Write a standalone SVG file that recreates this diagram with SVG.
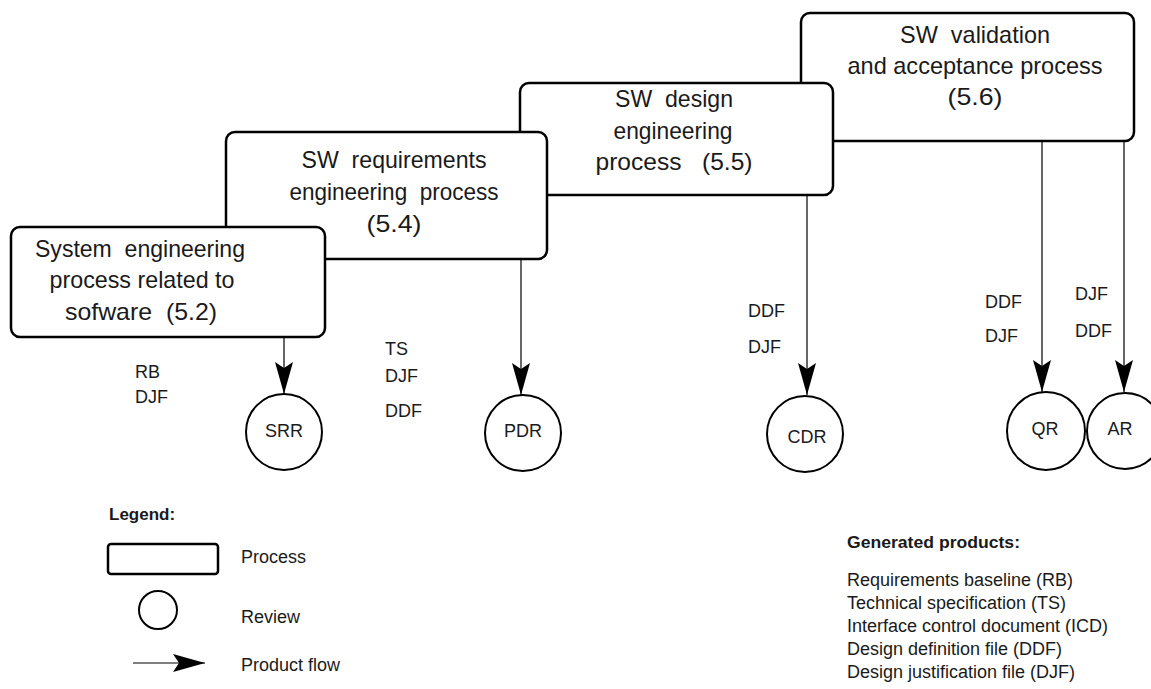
<svg xmlns="http://www.w3.org/2000/svg" width="1151" height="689" viewBox="0 0 1151 689">
<style>
.box{fill:#fff;stroke:#000;stroke-width:2.5}
.rev{fill:#fff;stroke:#000;stroke-width:2}
.flow{fill:none;stroke:#000;stroke-width:1.2;marker-end:url(#ah)}
.t{font-family:"Liberation Sans",Arial,sans-serif;fill:#1a1a1a;white-space:pre}
.bt{font-size:24px;text-anchor:middle}
.lb{font-size:18px}
.cl{font-size:18px;text-anchor:middle}
.lg{font-size:18px}
.hd{font-size:17px;font-weight:bold}
</style>
<defs>
<marker id="ah" viewBox="0 -9 32 18" refX="32" refY="0" markerWidth="32" markerHeight="18" markerUnits="userSpaceOnUse" orient="auto">
<path d="M0,-9 L32,0 L0,9 L6,0 Z" fill="#000"/>
</marker>
</defs>
<rect width="1151" height="689" fill="#fff"/>

<g id="connectors">
<line class="flow" x1="284" y1="337" x2="284" y2="394"/>
<line class="flow" x1="521" y1="259" x2="521" y2="395"/>
<line class="flow" x1="807" y1="195" x2="807" y2="395"/>
<line class="flow" x1="1042" y1="141" x2="1042" y2="392"/>
<line class="flow" x1="1124" y1="141" x2="1124" y2="392"/>
</g>

<g id="p56">
<rect class="box" x="801" y="13" width="333" height="128" rx="9"/>
<text class="t bt" x="975" y="43" textLength="150" lengthAdjust="spacingAndGlyphs">SW  validation</text>
<text class="t bt" x="975" y="74" textLength="255" lengthAdjust="spacingAndGlyphs">and acceptance process</text>
<text class="t bt" x="975" y="105" textLength="55" lengthAdjust="spacingAndGlyphs">(5.6)</text>
</g>
<g id="p55">
<rect class="box" x="520" y="83" width="313" height="112" rx="9"/>
<text class="t bt" x="674" y="107" textLength="118" lengthAdjust="spacingAndGlyphs">SW  design</text>
<text class="t bt" x="673" y="139" textLength="119" lengthAdjust="spacingAndGlyphs">engineering</text>
<text class="t bt" x="674" y="170" textLength="157" lengthAdjust="spacingAndGlyphs">process   (5.5)</text>
</g>
<g id="p54">
<rect class="box" x="226" y="132" width="321" height="127" rx="9"/>
<text class="t bt" x="394" y="168" textLength="185" lengthAdjust="spacingAndGlyphs">SW  requirements</text>
<text class="t bt" x="394" y="200" textLength="209" lengthAdjust="spacingAndGlyphs">engineering  process</text>
<text class="t bt" x="394" y="232" textLength="55" lengthAdjust="spacingAndGlyphs">(5.4)</text>
</g>
<g id="p52">
<rect class="box" x="11" y="227" width="314" height="110" rx="9"/>
<text class="t bt" x="140" y="257" textLength="210" lengthAdjust="spacingAndGlyphs">System  engineering</text>
<text class="t bt" x="142" y="288" textLength="185" lengthAdjust="spacingAndGlyphs">process related to</text>
<text class="t bt" x="141" y="320" textLength="152" lengthAdjust="spacingAndGlyphs">sofware  (5.2)</text>
</g>

<g id="srr"><circle class="rev" cx="284" cy="432" r="38"/><text class="t cl" x="284" y="437">SRR</text></g>
<g id="pdr"><circle class="rev" cx="523" cy="433" r="38"/><text class="t cl" x="523" y="437">PDR</text></g>
<g id="cdr"><circle class="rev" cx="805" cy="434" r="38"/><text class="t cl" x="807" y="443">CDR</text></g>
<g id="qr"><circle class="rev" cx="1046" cy="431" r="39"/><text class="t cl" x="1045" y="435">QR</text></g>
<g id="ar"><circle class="rev" cx="1125" cy="431" r="38"/><text class="t cl" x="1120" y="435">AR</text></g>

<g id="labels">
<text class="t lb" x="135" y="378">RB</text>
<text class="t lb" x="135" y="403">DJF</text>
<text class="t lb" x="385" y="355">TS</text>
<text class="t lb" x="385" y="382">DJF</text>
<text class="t lb" x="385" y="417">DDF</text>
<text class="t lb" x="748" y="317">DDF</text>
<text class="t lb" x="748" y="353">DJF</text>
<text class="t lb" x="985" y="308">DDF</text>
<text class="t lb" x="985" y="342">DJF</text>
<text class="t lb" x="1075" y="300">DJF</text>
<text class="t lb" x="1075" y="337">DDF</text>
</g>

<g id="legend">
<text class="t hd" x="109" y="520">Legend:</text>
<rect x="108" y="544" width="110" height="30" rx="3" fill="#fff" stroke="#000" stroke-width="2.5"/>
<text class="t lg" x="241" y="563">Process</text>
<circle class="rev" cx="158" cy="610" r="19"/>
<text class="t lg" x="241" y="623">Review</text>
<line class="flow" x1="133" y1="663" x2="205" y2="663"/>
<text class="t lg" x="241" y="671">Product flow</text>
</g>

<g id="products">
<text class="t hd" x="847" y="548" textLength="173" lengthAdjust="spacingAndGlyphs">Generated products:</text>
<text class="t lg" x="847" y="586">Requirements baseline (RB)</text>
<text class="t lg" x="847" y="609">Technical specification (TS)</text>
<text class="t lg" x="847" y="632">Interface control document (ICD)</text>
<text class="t lg" x="847" y="655">Design definition file (DDF)</text>
<text class="t lg" x="847" y="678">Design justification file (DJF)</text>
</g>
</svg>
